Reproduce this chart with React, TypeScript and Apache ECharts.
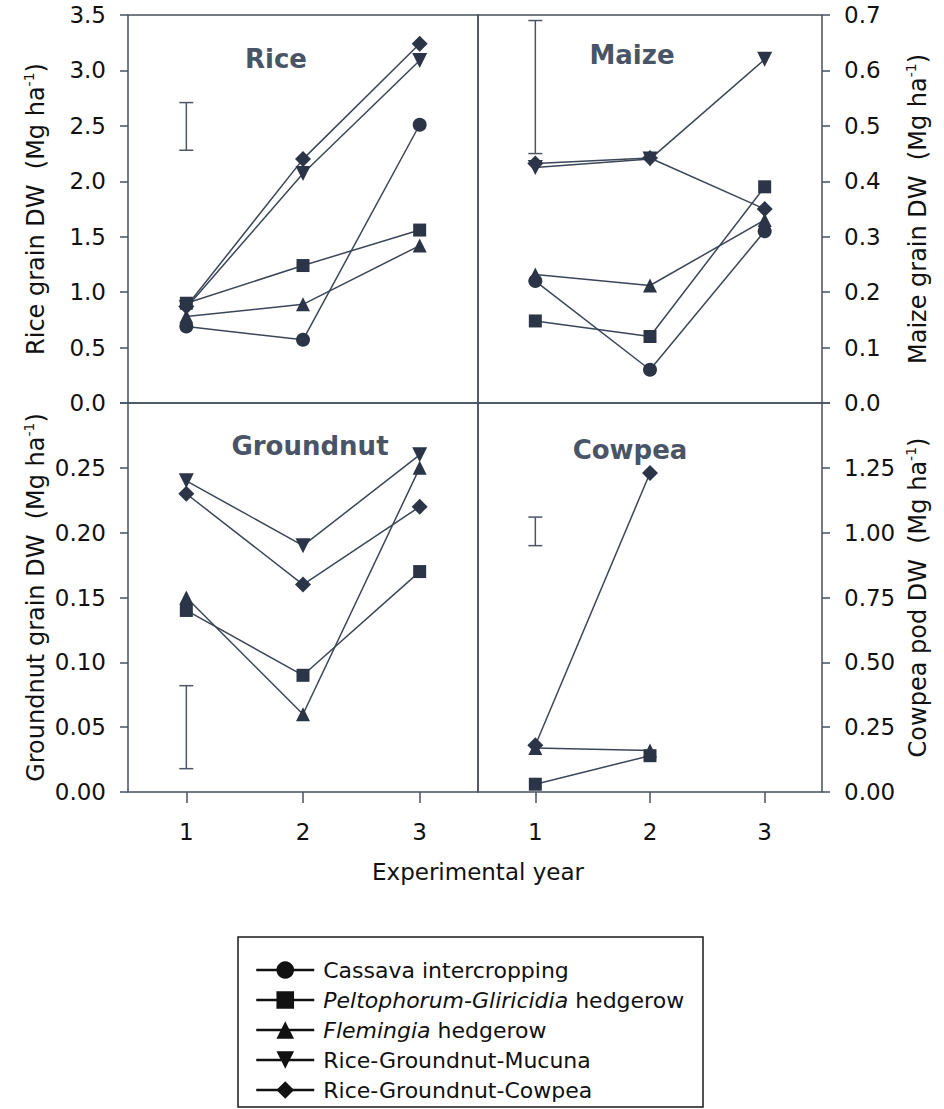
import React, { useEffect, useRef } from "react";
import * as echarts from "echarts";

const years = ["1", "2", "3"];
const seriesNames = [
  "Cassava intercropping",
  "Peltophorum-Gliricidia hedgerow",
  "Flemingia hedgerow",
  "Rice-Groundnut-Mucuna",
  "Rice-Groundnut-Cowpea",
];

// Rice (left axis, Mg ha-1)
const riceCassava = [0.69, 0.57, 2.51];
const ricePelto = [0.9, 1.24, 1.56];
const riceFlem = [0.78, 0.89, 1.42];
const riceMucuna = [0.86, 2.07, 3.09];
const riceCowpea = [0.87, 2.2, 3.24];
const riceErr = [0, 2.28, 2.71];

// Maize (right axis)
const maizeCassava = [0.22, 0.06, 0.31];
const maizePelto = [0.148, 0.12, 0.39];
const maizeFlem = [0.232, 0.212, 0.33];
const maizeMucuna = [0.425, 0.44, 0.62];
const maizeCowpea = [0.432, 0.442, 0.35];
const maizeErr = [0, 0.45, 0.69];

// Groundnut (left axis)
const gnPelto = [0.14, 0.09, 0.17];
const gnFlem = [0.15, 0.06, 0.25];
const gnMucuna = [0.24, 0.19, 0.26];
const gnCowpea = [0.23, 0.16, 0.22];
const gnErr = [0, 0.018, 0.082];

// Cowpea (right axis)
const cpPelto = [0.03, 0.14];
const cpFlem = [0.17, 0.16];
const cpCowpea = [0.18, 1.23];
const cpErr = [0, 0.95, 1.06];

const FONT = "DejaVu Sans";
const LINE = "#3b4658";
const MARK = "#2b3547";
const FRAME = "#46505f";
const TXT = "#111111";

const symbols: Record<string, { symbol: string; size: number }> = {
  "Cassava intercropping": { symbol: "circle", size: 14 },
  "Peltophorum-Gliricidia hedgerow": { symbol: "rect", size: 13 },
  "Flemingia hedgerow": { symbol: "triangle", size: 14 },
  "Rice-Groundnut-Mucuna": { symbol: "path://M0,0L10,0L5,9Z", size: 15 },
  "Rice-Groundnut-Cowpea": { symbol: "diamond", size: 16 },
};

function lineSeries(name: string, data: number[], idx: number) {
  const s = symbols[name];
  return {
    type: "line",
    name,
    xAxisIndex: idx,
    yAxisIndex: idx,
    data,
    symbol: s.symbol,
    symbolSize: s.size,
    showSymbol: true,
    lineStyle: { color: LINE, width: 1.5 },
    itemStyle: { color: MARK, borderWidth: 0 },
    z: 3,
  };
}

function errSeries(err: number[], idx: number) {
  return {
    type: "custom",
    name: "err" + idx,
    xAxisIndex: idx,
    yAxisIndex: idx,
    data: [err],
    renderItem: (params: any, api: any) => {
      const lo = api.coord([api.value(0), api.value(1)]);
      const hi = api.coord([api.value(0), api.value(2)]);
      const w = 7;
      const style = { stroke: "#4c5668", lineWidth: 1.5 };
      return {
        type: "group",
        children: [
          { type: "line", shape: { x1: lo[0], y1: lo[1], x2: hi[0], y2: hi[1] }, style },
          { type: "line", shape: { x1: lo[0] - w, y1: lo[1], x2: lo[0] + w, y2: lo[1] }, style },
          { type: "line", shape: { x1: hi[0] - w, y1: hi[1], x2: hi[0] + w, y2: hi[1] }, style },
        ],
      };
    },
    z: 2,
  };
}

const nameRich = {
  a: { fontFamily: FONT, fontSize: 24, color: TXT, lineHeight: 28 },
  s: { fontFamily: FONT, fontSize: 14, color: TXT, verticalAlign: "top", lineHeight: 28 },
};

function yAxis(idx: number, pos: string, max: number, interval: number, digits: number, name: string, hideTop: boolean) {
  return {
    type: "value",
    gridIndex: idx,
    position: pos,
    min: 0,
    max,
    interval,
    splitLine: { show: false },
    axisLine: { show: false },
    axisTick: { show: true, length: 8, lineStyle: { color: FRAME, width: 1.5 } },
    axisLabel: {
      margin: 22,
      fontFamily: FONT,
      fontSize: 23,
      color: TXT,
      formatter: (v: number) => (hideTop && v > max - interval / 2 ? "" : v.toFixed(digits)),
    },
    name: "{a|" + name + "  (Mg ha}{s|-1}{a|)}",
    nameLocation: "middle",
    nameGap: pos === "left" ? 78 : 82,
    nameTextStyle: { rich: nameRich },
  };
}

function xAxis(idx: number, bottom: boolean) {
  return {
    type: "category",
    gridIndex: idx,
    data: years,
    boundaryGap: true,
    axisLine: { show: false },
    axisTick: { show: bottom, alignWithLabel: true, length: 11, lineStyle: { color: FRAME, width: 1.5 } },
    axisLabel: { show: bottom, margin: 28, fontFamily: FONT, fontSize: 23, color: TXT },
    splitLine: { show: false },
  };
}

const gridBase = { show: true, borderColor: FRAME, borderWidth: 1.5, backgroundColor: "transparent" };

const titleStyle = { fontFamily: FONT, fontSize: 26, fontWeight: "bold", fill: "#4a5467", align: "center", verticalAlign: "middle" };

export default function App() {
  const ref = useRef<HTMLDivElement>(null);
  useEffect(() => {
    if (!ref.current) return;
    const chart = echarts.init(ref.current, null, { renderer: "svg" });
    const option = {
      animation: false,
      backgroundColor: "#ffffff",
      grid: [
        { ...gridBase, left: 128, top: 15, width: 350, height: 388 },
        { ...gridBase, left: 478, top: 15, width: 344, height: 388 },
        { ...gridBase, left: 128, top: 403, width: 350, height: 389 },
        { ...gridBase, left: 478, top: 403, width: 344, height: 389 },
      ],
      xAxis: [xAxis(0, false), xAxis(1, false), xAxis(2, true), xAxis(3, true)],
      yAxis: [
        yAxis(0, "left", 3.5, 0.5, 1, "Rice grain DW", false),
        yAxis(1, "right", 0.7, 0.1, 1, "Maize grain DW", false),
        yAxis(2, "left", 0.3, 0.05, 2, "Groundnut grain DW", true),
        yAxis(3, "right", 1.5, 0.25, 2, "Cowpea pod DW", true),
      ],
      legend: {
        data: seriesNames,
        orient: "vertical",
        left: 250,
        top: 954,
        itemWidth: 58,
        itemHeight: 22,
        itemGap: 8,
        selectedMode: false,
        lineStyle: { color: "#111", width: 2.5 },
        itemStyle: { color: "#111" },
        textStyle: {
          fontFamily: FONT,
          fontSize: 22,
          lineHeight: 22,
          color: TXT,
          padding: [0, 0, 0, 4],
          rich: {
            i: { fontFamily: FONT, fontSize: 22, fontStyle: "italic", color: TXT, lineHeight: 22 },
          },
        },
        formatter: (name: string) => {
          if (name === "Peltophorum-Gliricidia hedgerow") return "{i|Peltophorum-Gliricidia} hedgerow";
          if (name === "Flemingia hedgerow") return "{i|Flemingia} hedgerow";
          return name;
        },
      },
      graphic: [
        { type: "text", x: 276, y: 59, style: { text: "Rice", ...titleStyle } },
        { type: "text", x: 632, y: 55, style: { text: "Maize", ...titleStyle } },
        { type: "text", x: 310, y: 446, style: { text: "Groundnut", ...titleStyle } },
        { type: "text", x: 630, y: 450, style: { text: "Cowpea", ...titleStyle } },
        {
          type: "text",
          x: 478,
          y: 872,
          style: { text: "Experimental year", fontFamily: FONT, fontSize: 23, fill: TXT, align: "center", verticalAlign: "middle" },
        },
        {
          type: "rect",
          shape: { x: 238, y: 937, width: 465, height: 170 },
          style: { fill: "transparent", stroke: "#1a1a1a", lineWidth: 1.5 },
        },
      ],
      series: [
        lineSeries(seriesNames[0], riceCassava, 0),
        lineSeries(seriesNames[1], ricePelto, 0),
        lineSeries(seriesNames[2], riceFlem, 0),
        lineSeries(seriesNames[3], riceMucuna, 0),
        lineSeries(seriesNames[4], riceCowpea, 0),
        errSeries(riceErr, 0),
        lineSeries(seriesNames[0], maizeCassava, 1),
        lineSeries(seriesNames[1], maizePelto, 1),
        lineSeries(seriesNames[2], maizeFlem, 1),
        lineSeries(seriesNames[3], maizeMucuna, 1),
        lineSeries(seriesNames[4], maizeCowpea, 1),
        errSeries(maizeErr, 1),
        lineSeries(seriesNames[1], gnPelto, 2),
        lineSeries(seriesNames[2], gnFlem, 2),
        lineSeries(seriesNames[3], gnMucuna, 2),
        lineSeries(seriesNames[4], gnCowpea, 2),
        errSeries(gnErr, 2),
        lineSeries(seriesNames[1], cpPelto, 3),
        lineSeries(seriesNames[2], cpFlem, 3),
        lineSeries(seriesNames[4], cpCowpea, 3),
        errSeries(cpErr, 3),
      ],
    };
    chart.setOption(option as any);
    return () => chart.dispose();
  }, []);
  return <div ref={ref} style={{ width: 944, height: 1109, position: "absolute", left: 0, top: 0 }} />;
}
